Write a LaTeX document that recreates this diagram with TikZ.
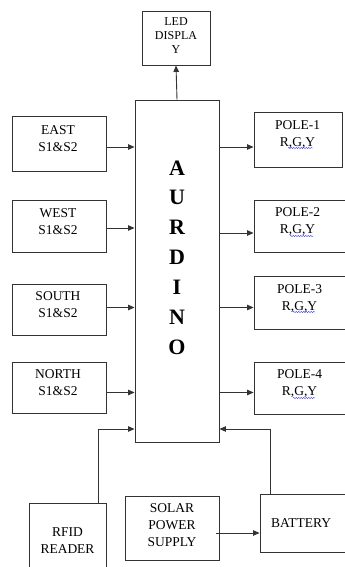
\documentclass[tikz,border=0pt]{standalone}
\usepackage{fontspec}
\setmainfont{Liberation Serif}
\usetikzlibrary{arrows.meta,decorations.pathmorphing}
\begin{document}
\begin{tikzpicture}[x=1pt,y=-1pt,
  box/.style={draw=black!80,line width=0.9pt,inner sep=0pt},
  txt/.style={align=center,font=\fontsize{13.5}{17}\selectfont,inner sep=0pt},
  big/.style={font=\fontsize{22}{22}\selectfont\bfseries,inner sep=0pt},
  arr/.style={draw=black!80,line width=0.9pt,-{Triangle[length=6.5pt,width=5.5pt]}},
  wavy/.style={draw=blue!80,line width=0.4pt,decorate,decoration={snake,segment length=2.5pt,amplitude=0.6pt}}]
\useasboundingbox (0,0) rectangle (345,567);
% boxes
\node[box,minimum width=68pt,minimum height=54pt] (led) at (176,38) {};
\node[box,minimum width=84pt,minimum height=342pt] (aur) at (177,271) {};
\node[box,minimum width=94pt,minimum height=55pt] (east) at (59,143.5) {};
\node[box,minimum width=94pt,minimum height=52pt] (west) at (59,226) {};
\node[box,minimum width=94pt,minimum height=51pt] (south) at (59,309.5) {};
\node[box,minimum width=94pt,minimum height=51pt] (north) at (59,387.5) {};
\node[box,minimum width=88pt,minimum height=55pt] (p1) at (298,139.5) {};
\node[box,minimum width=96pt,minimum height=52pt] (p2) at (302,226) {};
\node[box,minimum width=96pt,minimum height=53pt] (p3) at (302,302.5) {};
\node[box,minimum width=96pt,minimum height=52pt] (p4) at (302,388) {};
\node[box,minimum width=77pt,minimum height=74pt] (rfid) at (67.5,540) {};
\node[box,minimum width=94pt,minimum height=64pt] (solar) at (172,528) {};
\node[box,minimum width=96pt,minimum height=58pt] (bat) at (308,523) {};
% texts
\node[txt,font=\fontsize{12}{14}\selectfont] (ledt) at (176,36) {LED\\DISPLA\\Y};
\node[txt] (eastt) at (58,138.5) {EAST\\S1\&S2};
\node[txt] (westt) at (58,221.5) {WEST\\S1\&S2};
\node[txt] (southt) at (58,305) {SOUTH\\S1\&S2};
\node[txt] (northt) at (58,382.5) {NORTH\\S1\&S2};
\node[txt] (p1t) at (297.5,134.5) {POLE-1\\R,G,Y};
\node[txt] (p2t) at (297.5,221.5) {POLE-2\\R,G,Y};
\node[txt] (p3t) at (299.5,298.5) {POLE-3\\R,G,Y};
\node[txt] (p4t) at (299.5,384) {POLE-4\\R,G,Y};
\node[txt] (rfidt) at (67.5,540.5) {RFID\\READER};
\node[txt] (solart) at (172,525) {SOLAR\\POWER\\SUPPLY};
\node[txt] (batt) at (301,523) {BATTERY};
% AURDINO letters
\node[big] (la) at (177,168) {A};
\node[big] (lu) at (177,197.5) {U};
\node[big] (lr) at (177,227.5) {R};
\node[big] (ld) at (177,257.5) {D};
\node[big] (li) at (177,287.5) {I};
\node[big] (ln) at (177,317.5) {N};
\node[big] (lo) at (177,347) {O};
% spell-check underlines
\draw[wavy] (288,148) -- (313,148);
\draw[wavy] (290,236) -- (313,236);
\draw[wavy] (293,312) -- (315,312);
\draw[wavy] (293,398) -- (315,398);
% row coordinates
\coordinate (r1) at (0,147);
\coordinate (r2) at (0,228);
\coordinate (r2b) at (0,233);
\coordinate (r3) at (0,307.5);
\coordinate (r4) at (0,392.5);
\coordinate (rb) at (0,429);
\coordinate (rs) at (0,533);
\coordinate (xr) at (98,0);
\coordinate (xb) at (270,0);
\coordinate (xs) at (216,0);
% connectors
\draw[arr] (aur.north) -- (led.south);
\draw[arr] (east.east |- r1) -- (aur.west |- r1);
\draw[arr] (west.east |- r2) -- (aur.west |- r2);
\draw[arr] (south.east |- r3) -- (aur.west |- r3);
\draw[arr] (north.east |- r4) -- (aur.west |- r4);
\draw[arr] (aur.east |- r1) -- (p1.west |- r1);
\draw[arr] (aur.east |- r2b) -- (p2.west |- r2b);
\draw[arr] (aur.east |- r3) -- (p3.west |- r3);
\draw[arr] (aur.east |- r4) -- (p4.west |- r4);
\draw[arr] (rfid.north -| xr) -- (xr |- rb) -- (aur.west |- rb);
\draw[arr] (bat.north -| xb) -- (xb |- rb) -- (aur.east |- rb);
\draw[arr] (xs |- rs) -- (bat.west |- rs);
\end{tikzpicture}
\end{document}
